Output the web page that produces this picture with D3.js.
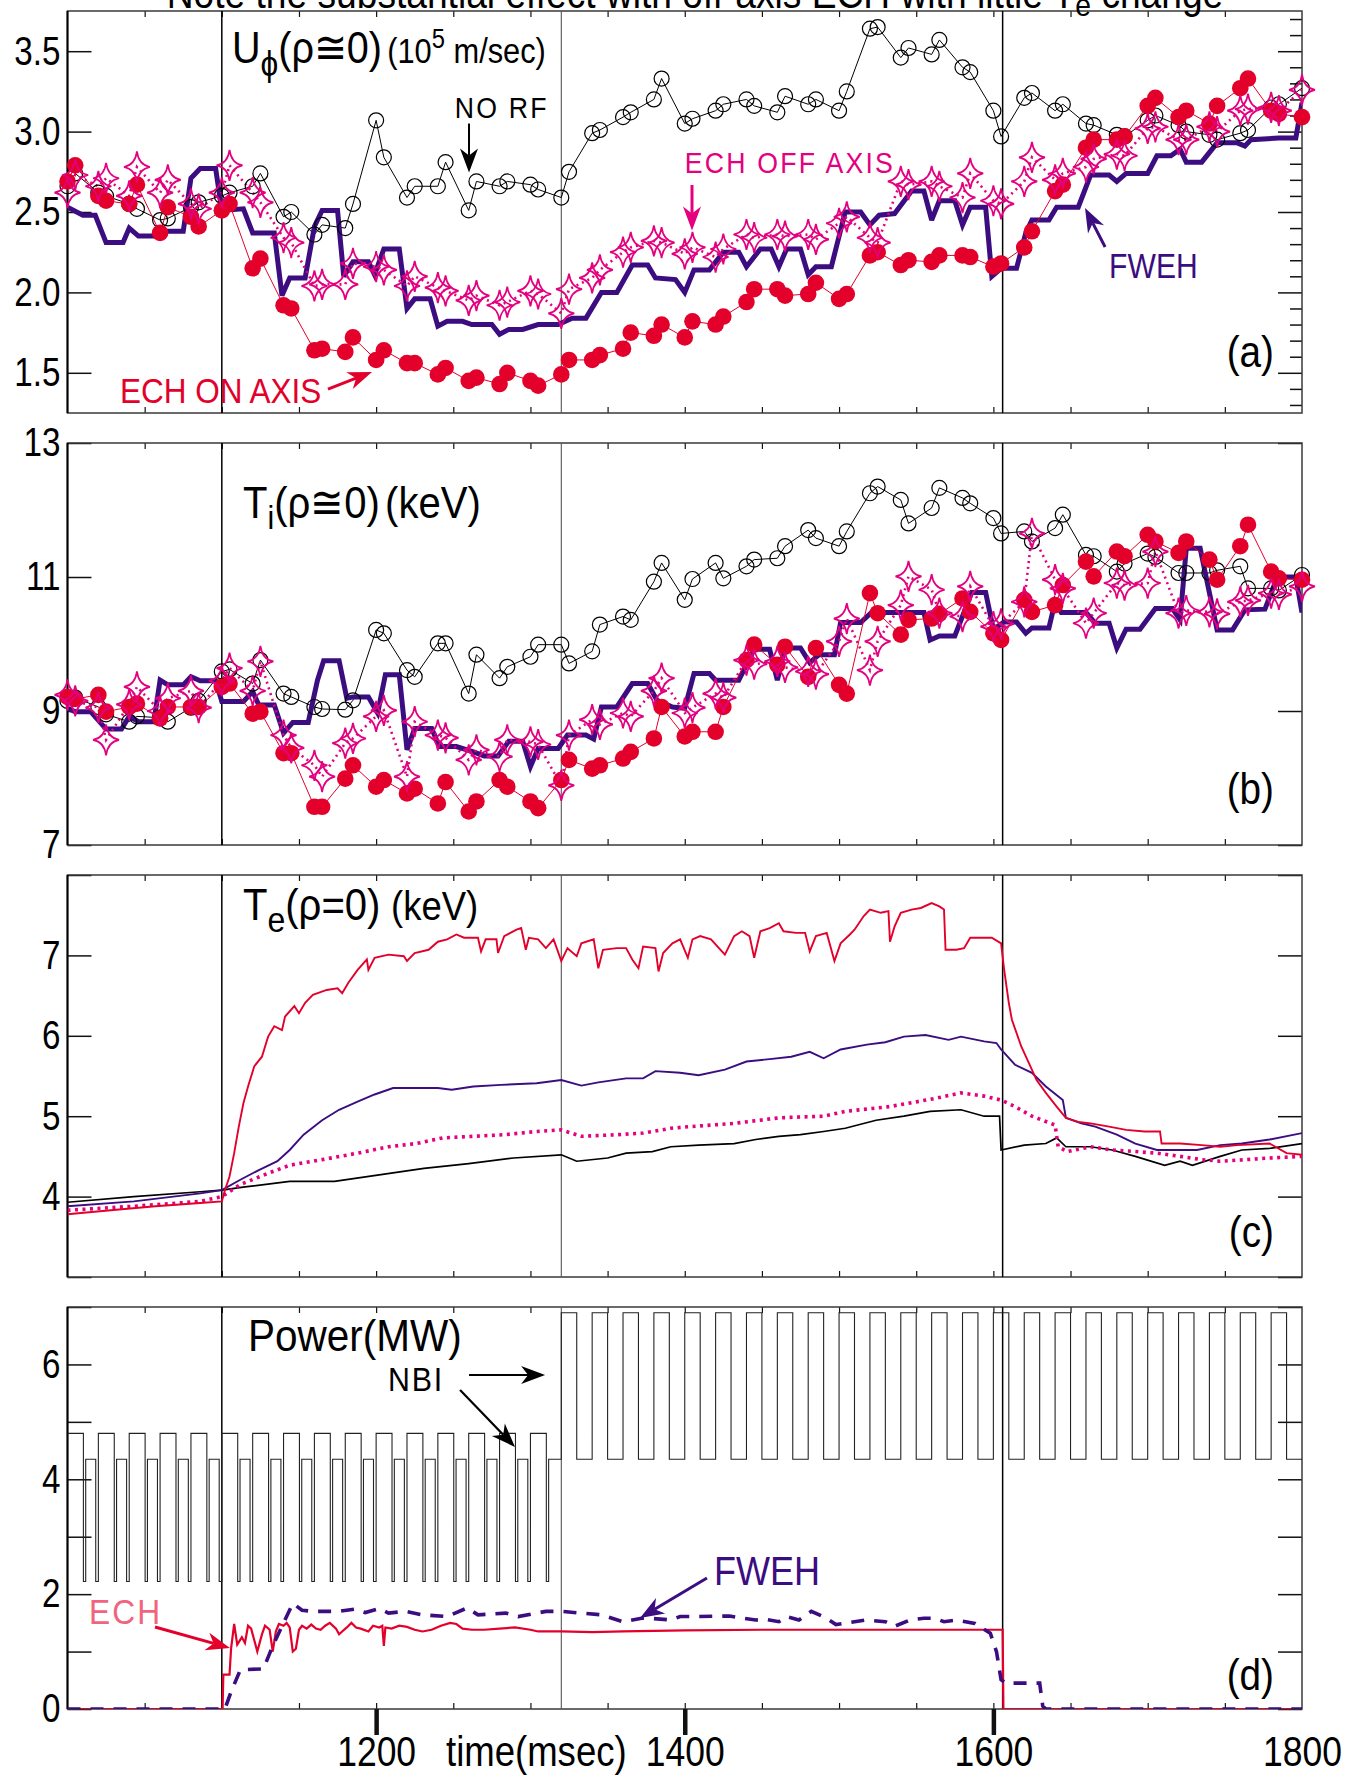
<!DOCTYPE html>
<html>
<head>
<meta charset="utf-8">
<script src="https://cdn.jsdelivr.net/npm/d3@7"></script>
<style>
  html, body { margin: 0; padding: 0; background: #fff; }
  svg { display: block; }
</style>
</head>
<body>
<div id="chart"></div>
<script>
// ---------------------------------------------------------------------------
// Data: central rotation, ion and electron temperature and heating power
// for four discharges (no RF, ECH on axis, ECH off axis, FWEH).
// ---------------------------------------------------------------------------

// CER sample times (ms), shared by the marker series of panels (a) and (b)
const cerTimes = [1000,1005,1020,1025,1040,1045,1060,1065,1080,1085,1100,1105,1120,1125,1140,1145,
  1160,1165,1180,1185,1200,1205,1220,1225,1240,1245,1260,1265,1280,1285,1300,1305,1320,1325,
  1340,1345,1360,1365,1380,1385,1400,1405,1420,1425,1440,1445,1460,1465,1480,1485,1500,1505,
  1520,1525,1540,1545,1560,1565,1580,1585,1600,1605,1620,1625,1640,1645,1660,1665,1680,1685,
  1700,1705,1720,1725,1740,1745,1760,1765,1780,1785,1800];

// (a) toroidal rotation U_phi (1e5 m/s)
const uNoRf = [2.66,2.74, 2.62,2.60, 2.55,2.52, 2.45,2.46, 2.53,2.56, 2.60,2.62, 2.66,2.74, 2.47,2.50,
  2.36,2.42, 2.40,2.55, 3.07,2.84, 2.59,2.66, 2.66,2.81, 2.51,2.69, 2.66,2.69, 2.67,2.64, 2.59,2.75,
  2.99,3.01, 3.09,3.12, 3.20,3.33, 3.05,3.08, 3.13,3.17, 3.20,3.16, 3.12,3.22, 3.17,3.20, 3.13,3.25,
  3.64,3.65, 3.46,3.52, 3.48,3.57, 3.40,3.37, 3.13,2.97, 3.21,3.24, 3.13,3.17, 3.05,3.04, 2.98,2.97,
  3.07,3.10, 3.04,3.00, 2.98,2.95, 2.99,3.01, 3.15,3.17, 3.27];
const uOnAxis = [2.69,2.79, 2.60,2.57, 2.55,2.67, 2.37,2.53, 2.47,2.41, 2.51,2.55, 2.15,2.21, 1.92,1.90,
  1.64,1.65, 1.63,1.72, 1.58,1.64, 1.56,1.56, 1.49,1.53, 1.45,1.47, 1.43,1.50, 1.45,1.42, 1.49,1.58,
  1.58,1.61, 1.65,1.75, 1.73,1.80, 1.72,1.82, 1.80,1.85, 1.94,2.02, 2.02,1.98, 1.99,2.06, 1.96,1.99,
  2.23,2.25, 2.17,2.20, 2.19,2.23, 2.23,2.22, 2.16,2.18, 2.28,2.38, 2.63,2.67, 2.90,2.95, 2.95,2.97,
  3.16,3.21, 3.09,3.13, 3.05,3.16, 3.27,3.33, 3.13,3.11, 3.09];
const uOffAxis = [2.62,2.73, 2.66,2.71, 2.60,2.78, 2.62,2.70, 2.55,2.52, 2.62,2.79, 2.62,2.56, 2.34,2.31,
  2.04,2.05, 2.05,2.18, 2.16,2.14, 2.04,2.10, 2.03,2.01, 1.95,1.98, 1.92,1.94, 2.01,1.99, 1.87,2.02,
  2.09,2.14, 2.25,2.28, 2.32,2.31, 2.24,2.28, 2.22,2.27, 2.36,2.34, 2.36,2.35, 2.36,2.33, 2.43,2.47,
  2.34,2.31, 2.69,2.67, 2.69,2.66, 2.59,2.74, 2.57,2.55, 2.69,2.84, 2.70,2.74, 2.78,2.83, 2.86,2.85,
  3.02,3.03, 2.95,2.95, 3.03,3.00, 3.13,3.14, 3.15,3.13, 3.26];
const uFweh = [[1000,2.53],[1010,2.48],[1018,2.48],[1025,2.31],[1036,2.31],[1040,2.40],[1046,2.35],
  [1057,2.35],[1063,2.38],[1075,2.38],[1080,2.71],[1086,2.77],[1096,2.77],[1100,2.51],[1114,2.52],
  [1120,2.37],[1134,2.37],[1139,1.98],[1144,2.09],[1154,2.09],[1160,2.41],[1165,2.51],[1175,2.51],
  [1179,2.10],[1185,2.19],[1195,2.19],[1199,2.11],[1205,2.27],[1215,2.27],[1220,1.90],[1225,1.96],
  [1235,1.96],[1240,1.79],[1246,1.82],[1256,1.82],[1262,1.80],[1275,1.80],[1280,1.74],[1286,1.77],
  [1295,1.77],[1305,1.80],[1318,1.80],[1327,1.84],[1336,1.84],[1346,2.00],[1356,2.00],[1366,2.17],
  [1376,2.17],[1381,2.09],[1394,2.08],[1400,2.00],[1406,2.14],[1416,2.14],[1425,2.25],[1435,2.25],
  [1440,2.16],[1449,2.27],[1456,2.27],[1461,2.16],[1466,2.27],[1475,2.27],[1480,2.11],[1485,2.16],
  [1495,2.16],[1504,2.50],[1514,2.50],[1520,2.42],[1526,2.48],[1536,2.49],[1547,2.63],[1555,2.63],
  [1560,2.45],[1565,2.57],[1575,2.57],[1580,2.42],[1585,2.53],[1595,2.53],[1599,2.10],[1605,2.15],
  [1615,2.15],[1621,2.37],[1625,2.45],[1636,2.45],[1641,2.53],[1655,2.53],[1663,2.73],[1675,2.73],
  [1680,2.69],[1686,2.74],[1700,2.74],[1706,2.85],[1715,2.85],[1721,2.89],[1725,2.81],[1735,2.81],
  [1745,2.93],[1758,2.93],[1763,2.91],[1767,2.95],[1785,2.96],[1796,2.96],[1800,3.18]];

// (b) ion temperature Ti (keV)
const tiNoRf = [9.15,9.20, 9.06,8.95, 8.84,8.92, 8.90,8.84, 9.05,9.15, 9.59,9.62, 9.41,9.76, 9.26,9.21,
  9.06,9.03, 9.02,9.16, 10.21,10.16, 9.61,9.51, 10.01,10.01, 9.26,9.84, 9.49,9.66, 9.81,9.99, 9.99,9.71,
  9.89,10.29, 10.41,10.36, 10.93,11.21, 10.66,10.97, 11.21,10.98, 11.16,11.26, 11.28,11.46, 11.70,11.58,
  11.46,11.68, 12.25,12.35, 12.15,11.80, 12.03,12.33, 12.18,12.10, 11.88,11.65, 11.68,11.53, 11.73,11.93,
  11.33,11.31, 11.08,11.20, 11.35,11.30, 11.06,11.06, 11.06,11.10, 11.16,10.83, 10.83,10.80, 11.03];
const tiOnAxis = [9.21,9.18, 9.24,8.99, 9.06,9.11, 8.89,9.06, 9.06,9.06, 9.36,9.41, 8.96,8.99, 8.37,8.37,
  7.57,7.57, 7.99,8.19, 7.87,7.97, 7.77,7.84, 7.62,7.94, 7.50,7.65, 7.97,7.87, 7.65,7.55, 7.97,8.27,
  8.14,8.19, 8.29,8.39, 8.59,9.06, 8.62,8.69, 8.69,9.06, 9.76,9.99, 9.69,9.96, 9.51,9.94, 9.39,9.26,
  10.76,10.46, 10.14,10.36, 10.38,10.45, 10.68,10.48, 10.16,10.06, 10.66,10.48, 10.58,10.88, 11.23,11.01,
  11.38,11.31, 11.63,11.53, 11.36,11.53, 11.26,10.96, 11.46,11.78, 11.08,10.98, 10.96];
const tiOffAxis = [9.24,9.15, 9.05,8.57, 9.10,9.36, 9.00,9.19, 9.30,9.05, 9.45,9.64, 9.30,9.74, 8.64,8.45,
  8.19,8.02, 8.52,8.59, 8.92,9.01, 8.02,8.84, 8.64,8.60, 8.27,8.42, 8.32,8.57, 8.54,8.50, 7.89,8.64,
  8.87,8.80, 8.97,8.92, 9.30,9.49, 8.97,9.05, 9.26,9.20, 9.76,9.70, 9.74,9.65, 9.59,9.55, 10.04,10.38,
  9.61,10.04, 10.58,11.01, 10.81,10.46, 10.41,10.86, 10.26,10.30, 10.63,11.65, 10.96,10.83, 10.31,10.46,
  10.91,10.88, 10.91,11.38, 10.46,10.50, 10.48,10.45, 10.63,10.65, 10.76,10.74, 10.86];
const tiFweh = [[1000,9.04],[1005,8.99],[1015,8.99],[1025,8.73],[1035,8.73],[1040,8.92],[1046,8.84],
  [1056,8.84],[1060,9.46],[1065,9.39],[1075,9.39],[1080,9.51],[1086,9.45],[1096,9.45],[1100,9.14],
  [1114,9.14],[1120,9.29],[1124,9.09],[1134,9.09],[1140,8.67],[1146,8.83],[1156,8.83],[1162,9.46],
  [1166,9.75],[1176,9.75],[1181,9.19],[1185,9.21],[1195,9.21],[1201,8.97],[1206,9.54],[1215,9.54],
  [1220,8.42],[1225,8.74],[1236,8.74],[1241,8.47],[1252,8.47],[1263,8.39],[1270,8.33],[1279,8.33],
  [1286,8.55],[1295,8.55],[1300,8.17],[1305,8.44],[1318,8.44],[1324,8.64],[1336,8.64],[1341,8.58],
  [1346,9.06],[1356,9.06],[1366,9.41],[1376,9.41],[1382,9.16],[1392,9.06],[1400,9.04],[1406,9.56],
  [1416,9.56],[1420,9.46],[1435,9.46],[1445,9.92],[1455,9.92],[1460,9.46],[1465,9.94],[1475,9.94],
  [1481,9.72],[1487,9.84],[1497,9.84],[1501,10.32],[1514,10.32],[1521,10.47],[1555,10.47],[1559,10.06],
  [1565,10.12],[1575,10.12],[1586,10.77],[1595,10.77],[1600,10.22],[1607,10.33],[1615,10.33],
  [1621,10.16],[1625,10.24],[1636,10.24],[1640,10.63],[1644,10.47],[1660,10.47],[1666,10.31],
  [1675,10.31],[1680,9.94],[1686,10.22],[1695,10.22],[1705,10.53],[1716,10.53],[1721,10.36],
  [1725,11.43],[1734,11.43],[1745,10.21],[1755,10.21],[1763,10.51],[1776,10.52],[1784,11.00],
  [1796,11.00],[1800,10.47]];

// (c) electron temperature Te (keV), ECE traces [time, value]
const teOnAxis = [[1000,3.78],[1028,3.83],[1057,3.88],[1086,3.92],[1100,3.94],[1102,4.08],[1105,4.25],
  [1108,4.54],[1111,4.87],[1114,5.16],[1117,5.37],[1121,5.62],[1126,5.74],[1130,5.99],[1134,6.12],
  [1139,6.07],[1141,6.24],[1147,6.37],[1150,6.28],[1154,6.41],[1159,6.51],[1168,6.57],[1175,6.59],
  [1178,6.53],[1182,6.66],[1188,6.82],[1194,6.95],[1195,6.82],[1199,6.97],[1208,7.01],[1218,6.99],
  [1220,6.93],[1225,7.03],[1234,7.07],[1240,7.17],[1246,7.20],[1252,7.26],[1257,7.22],[1266,7.22],
  [1268,7.05],[1271,7.20],[1278,7.20],[1279,7.03],[1283,7.24],[1291,7.32],[1294,7.34],[1297,7.07],
  [1299,7.22],[1305,7.20],[1310,7.09],[1315,7.20],[1320,6.93],[1324,7.09],[1330,6.99],[1333,7.15],
  [1341,7.20],[1344,6.84],[1347,7.07],[1356,7.09],[1362,7.09],[1366,6.95],[1370,6.84],[1373,7.11],
  [1381,7.09],[1383,6.80],[1386,7.03],[1392,7.15],[1397,7.20],[1402,6.97],[1405,7.20],[1410,7.24],
  [1417,7.20],[1426,7.01],[1432,7.24],[1437,7.30],[1442,7.24],[1445,6.97],[1449,7.30],[1455,7.34],
  [1461,7.40],[1464,7.30],[1472,7.28],[1478,7.28],[1481,7.05],[1485,7.24],[1492,7.28],[1497,6.93],
  [1501,7.15],[1507,7.26],[1510,7.32],[1516,7.49],[1520,7.57],[1527,7.53],[1532,7.55],[1533,7.17],
  [1536,7.36],[1540,7.53],[1547,7.57],[1553,7.59],[1560,7.65],[1565,7.61],[1568,7.57],[1569,7.07],
  [1576,7.07],[1581,7.09],[1585,7.22],[1594,7.22],[1599,7.22],[1605,7.15],[1607,6.82],[1610,6.41],
  [1612,6.20],[1618,5.87],[1624,5.62],[1628,5.45],[1634,5.29],[1641,5.12],[1647,4.98],[1655,4.93],
  [1663,4.91],[1675,4.87],[1686,4.83],[1698,4.81],[1708,4.81],[1709,4.66],[1721,4.66],[1735,4.64],
  [1747,4.62],[1758,4.64],[1779,4.66],[1790,4.54],[1800,4.52]];
const teFweh = [[1000,3.88],[1043,3.94],[1086,4.04],[1100,4.08],[1112,4.21],[1124,4.33],[1136,4.44],
  [1144,4.58],[1153,4.77],[1165,4.95],[1176,5.08],[1188,5.18],[1199,5.27],[1211,5.35],[1223,5.35],
  [1240,5.35],[1249,5.33],[1263,5.37],[1281,5.39],[1304,5.41],[1320,5.45],[1333,5.38],[1344,5.42],
  [1362,5.47],[1373,5.47],[1381,5.56],[1397,5.54],[1409,5.51],[1426,5.58],[1440,5.68],[1455,5.71],
  [1469,5.74],[1481,5.80],[1490,5.72],[1501,5.83],[1518,5.89],[1530,5.92],[1542,5.99],[1556,6.01],
  [1571,5.95],[1579,5.99],[1594,5.93],[1602,5.91],[1605,5.83],[1614,5.64],[1625,5.54],[1634,5.37],
  [1645,5.20],[1647,4.98],[1657,4.91],[1666,4.87],[1680,4.77],[1692,4.66],[1706,4.58],[1721,4.58],
  [1732,4.58],[1747,4.64],[1761,4.66],[1779,4.71],[1800,4.79]];
const teOffAxis = [[1000,3.83],[1043,3.88],[1086,3.94],[1100,4.00],[1112,4.15],[1130,4.29],[1144,4.39],
  [1165,4.46],[1188,4.54],[1208,4.62],[1226,4.66],[1243,4.73],[1263,4.75],[1283,4.77],[1304,4.81],
  [1320,4.83],[1333,4.75],[1356,4.77],[1373,4.79],[1391,4.85],[1403,4.87],[1432,4.91],[1461,4.98],
  [1490,5.00],[1504,5.06],[1533,5.12],[1562,5.22],[1579,5.29],[1594,5.25],[1605,5.20],[1614,5.12],
  [1625,5.00],[1640,4.89],[1642,4.62],[1648,4.56],[1663,4.62],[1677,4.58],[1692,4.56],[1706,4.54],
  [1721,4.50],[1735,4.46],[1747,4.44],[1764,4.46],[1779,4.48],[1800,4.50]];
const teNoRf = [[1000,3.93],[1043,4.00],[1086,4.06],[1100,4.08],[1115,4.12],[1144,4.19],[1173,4.19],
  [1202,4.27],[1231,4.35],[1260,4.41],[1289,4.48],[1320,4.52],[1330,4.44],[1350,4.48],[1362,4.54],
  [1379,4.56],[1391,4.62],[1409,4.64],[1432,4.66],[1446,4.71],[1461,4.75],[1475,4.77],[1490,4.81],
  [1504,4.85],[1524,4.95],[1542,5.00],[1559,5.06],[1579,5.08],[1594,5.00],[1604,5.00],[1605,4.58],
  [1620,4.64],[1634,4.66],[1641,4.73],[1647,4.62],[1663,4.62],[1677,4.58],[1692,4.50],[1711,4.39],
  [1721,4.44],[1729,4.39],[1747,4.50],[1761,4.58],[1779,4.60],[1800,4.66]];

// (d) heating power (MW)
const echPower = [[1000,0],[1100.5,0],[1101,0.6],[1105,0.6],[1106,1.05],[1108,1.48],[1110,1.12],
  [1113,1.25],[1115,1.15],[1117,1.45],[1119,1.40],[1121,1.20],[1123,1.00],[1126,1.30],[1128,1.45],
  [1131,1.38],[1133,1.00],[1135,1.35],[1137,1.48],[1140,1.45],[1142,1.50],[1144,1.42],[1146,1.00],
  [1148,1.05],[1150,1.38],[1152,1.45],[1155,1.40],[1158,1.47],[1161,1.40],[1164,1.38],[1167,1.45],
  [1170,1.50],[1174,1.40],[1176,1.30],[1178,1.35],[1181,1.42],[1184,1.50],[1187,1.42],[1190,1.40],
  [1195,1.35],[1198,1.45],[1202,1.42],[1204,1.45],[1205,1.10],[1206,1.42],[1210,1.40],[1215,1.45],
  [1220,1.43],[1225,1.38],[1230,1.35],[1236,1.38],[1242,1.45],[1248,1.50],[1252,1.48],[1256,1.40],
  [1262,1.38],[1270,1.38],[1280,1.40],[1290,1.42],[1300,1.38],[1305,1.35],[1320,1.35],[1340,1.34],
  [1360,1.35],[1400,1.37],[1450,1.38],[1500,1.38],[1550,1.38],[1600,1.38],[1606,1.38],[1606.5,0],
  [1800,0]];
const fwehPower = [[1000,0],[1102,0],[1106,0.30],[1112,0.68],[1127,0.70],[1133,1.10],[1140,1.50],
  [1146,1.84],[1152,1.72],[1159,1.70],[1176,1.70],[1186,1.74],[1193,1.68],[1202,1.75],[1208,1.67],
  [1219,1.70],[1230,1.64],[1246,1.61],[1259,1.76],[1266,1.64],[1284,1.67],[1292,1.61],[1310,1.70],
  [1320,1.70],[1346,1.64],[1360,1.52],[1372,1.58],[1377,1.58],[1391,1.55],[1397,1.61],[1409,1.61],
  [1429,1.62],[1438,1.58],[1446,1.55],[1453,1.56],[1461,1.52],[1466,1.61],[1474,1.55],[1482,1.70],
  [1492,1.58],[1498,1.47],[1510,1.52],[1517,1.55],[1530,1.52],[1536,1.44],[1546,1.55],[1555,1.58],
  [1562,1.58],[1568,1.52],[1576,1.55],[1588,1.49],[1598,1.32],[1602,1.00],[1605,0.51],[1608,0.45],
  [1630,0.45],[1632,0.05],[1634,0],[1800,0]];
// NBI power steps [start time, level]
const nbiSteps = [
  [1000,4.8],[1010.3,2.22],[1011.8,4.35],[1018.3,2.22],
  [1020,4.8],[1030.3,2.22],[1031.8,4.35],[1038.3,2.22],
  [1040,4.8],[1050.3,2.22],[1051.8,4.35],[1058.3,2.22],
  [1060,4.8],[1070.3,2.22],[1071.8,4.35],[1078.3,2.22],
  [1080,4.8],[1090.3,2.22],[1091.8,4.35],[1098.3,2.22],
  [1100,4.8],[1110.3,2.22],[1111.8,4.35],[1118.3,2.22],
  [1120,4.8],[1130.3,2.22],[1131.8,4.35],[1138.3,2.22],
  [1140,4.8],[1150.3,2.22],[1151.8,4.35],[1158.3,2.22],
  [1160,4.8],[1170.3,2.22],[1171.8,4.35],[1178.3,2.22],
  [1180,4.8],[1190.3,2.22],[1191.8,4.35],[1198.3,2.22],
  [1200,4.8],[1210.3,2.22],[1211.8,4.35],[1218.3,2.22],
  [1220,4.8],[1230.3,2.22],[1231.8,4.35],[1238.3,2.22],
  [1240,4.8],[1250.3,2.22],[1251.8,4.35],[1258.3,2.22],
  [1260,4.8],[1270.3,2.22],[1271.8,4.35],[1278.3,2.22],
  [1280,4.8],[1290.3,2.22],[1291.8,4.35],[1298.3,2.22],
  [1300,4.8],[1310.3,2.22],[1311.8,4.35],
  [1320,6.9],[1330,4.35],[1340,6.9],[1350,4.35],[1360,6.9],[1370,4.35],[1380,6.9],[1390,4.35],
  [1400,6.9],[1410,4.35],[1420,6.9],[1430,4.35],[1440,6.9],[1450,4.35],[1460,6.9],[1470,4.35],
  [1480,6.9],[1490,4.35],[1500,6.9],[1510,4.35],[1520,6.9],[1530,4.35],[1540,6.9],[1550,4.35],
  [1560,6.9],[1570,4.35],[1580,6.9],[1590,4.35],[1600,6.9],[1610,4.35],[1620,6.9],[1630,4.35],
  [1640,6.9],[1650,4.35],[1660,6.9],[1670,4.35],[1680,6.9],[1690,4.35],[1700,6.9],[1710,4.35],
  [1720,6.9],[1730,4.35],[1740,6.9],[1750,4.35],[1760,6.9],[1770,4.35],[1780,6.9],[1790,4.35],
  [1800,4.35]];

// RF on / NBI step / RF off times (ms)
const eventTimes = [1100, 1320, 1606];

// tick labels
const timeLabels = [1200, 1400, 1600, 1800];
const uTicks = [1.5, 2.0, 2.5, 3.0, 3.5];
const tiTicks = [7, 9, 11, 13];
const teTicks = [3, 4, 5, 6, 7, 8];
const teLabels = [4, 5, 6, 7];
const powTicks = [0, 1, 2, 3, 4, 5, 6, 7];
const powLabels = [0, 2, 4, 6];

// ---------------------------------------------------------------------------
const FONT = '"Liberation Sans", Arial, Helvetica, sans-serif';
const RED = "#e3002b", PINK = "#e4007f", PURPLE = "#3b0d80", BLACK = "#000";
const W = 1345, H = 1776;
const X0 = 67.5, X1 = 1302;

const svg = d3.select("#chart").append("svg")
  .attr("width", W).attr("height", H)
  .attr("font-family", FONT);
svg.append("rect").attr("width", W).attr("height", H).attr("fill", "#fff");

const x = d3.scaleLinear().domain([1000, 1800]).range([X0, X1]);

const panels = {
  a: { top: 11,   bottom: 413,  domain: [1.25, 3.75] },
  b: { top: 443,  bottom: 845,  domain: [7, 13] },
  c: { top: 875,  bottom: 1277, domain: [3, 8] },
  d: { top: 1307, bottom: 1709, domain: [0, 7] }
};
Object.entries(panels).forEach(([k, p]) => {
  p.key = k;
  p.y = d3.scaleLinear().domain(p.domain).range([p.bottom, p.top]);
  svg.append("clipPath").attr("id", "clip-" + k)
    .append("rect").attr("x", X0).attr("y", p.top)
    .attr("width", X1 - X0).attr("height", p.bottom - p.top);
});

// narrow lettering: squeeze text horizontally about its anchor point
function narrow(sel, s) {
  sel.each(function () {
    const t = d3.select(this);
    const tx = +t.attr("x") || 0, ty = +t.attr("y") || 0;
    t.attr("x", 0).attr("y", 0).attr("transform", `translate(${tx},${ty}) scale(${s},1)`);
  });
}

const minorTimes = d3.range(1050, 1800, 50);

function styleAxis(g, width) {
  g.select(".domain").remove();
  g.attr("font-family", FONT).attr("font-size", 40);
  g.selectAll("line").attr("stroke", "#111").attr("stroke-width", width || 1.5);
  g.selectAll("text").attr("fill", "#000");
}

function drawFrame(p, cfg) {
  const g = svg.append("g");
  // left axis: inward major ticks and value labels
  g.append("g").attr("transform", `translate(${X0},0)`)
    .call(d3.axisLeft(p.y).tickValues(cfg.left).tickSize(-24).tickPadding(7)
      .tickFormat(v => cfg.labels.includes(v) ? cfg.fmt(v) : ""))
    .call(s => { styleAxis(s); narrow(s.selectAll("text"), 0.83); });
  // right axis: inward ticks
  g.append("g").attr("transform", `translate(${X1},0)`)
    .call(d3.axisRight(p.y).tickValues(cfg.right).tickSize(-24).tickFormat(""))
    .call(s => styleAxis(s));
  if (cfg.rightMinor) {
    g.append("g").attr("transform", `translate(${X1},0)`)
      .call(d3.axisRight(p.y).tickValues(cfg.rightMinor).tickSize(-12).tickFormat(""))
      .call(s => styleAxis(s));
  }
  // time ticks on top and bottom edges
  g.append("g").attr("transform", `translate(0,${p.top})`)
    .call(d3.axisTop(x).tickValues(minorTimes).tickSize(-6).tickFormat(""))
    .call(s => styleAxis(s, 1.2));
  g.append("g").attr("transform", `translate(0,${p.bottom})`)
    .call(d3.axisBottom(x).tickValues(minorTimes).tickSize(-6).tickFormat(""))
    .call(s => styleAxis(s, 1.2));
  // box
  g.append("rect").attr("x", X0).attr("y", p.top)
    .attr("width", X1 - X0).attr("height", p.bottom - p.top)
    .attr("fill", "none").attr("stroke", "#3a3a3a").attr("stroke-width", 1.5);
  g.append("line").attr("x1", X0).attr("x2", X0).attr("y1", p.top).attr("y2", p.bottom)
    .attr("stroke", "#000").attr("stroke-width", 2);
  // event markers
  g.selectAll("line.event").data(eventTimes).join("line").attr("class", "event")
    .attr("x1", d => x(d)).attr("x2", d => x(d))
    .attr("y1", p.top).attr("y2", p.bottom)
    .attr("stroke", (d, i) => i === 1 ? "#555" : "#000")
    .attr("stroke-width", (d, i) => i === 1 ? 1.1 : 1.5);
}

const fmt1 = d3.format(".1f"), fmt0 = d3.format("d");
const rightMinorU = d3.range(1.3, 3.75, 0.1).map(v => +v.toFixed(1)).filter(v => Math.abs(v * 2 - Math.round(v * 2)) > 1e-6);
drawFrame(panels.a, { left: uTicks, labels: uTicks, fmt: fmt1, right: uTicks, rightMinor: rightMinorU });
drawFrame(panels.b, { left: tiTicks, labels: tiTicks, fmt: fmt0, right: [7, 9, 13] });
drawFrame(panels.c, { left: teTicks, labels: teLabels, fmt: fmt0, right: teTicks });
drawFrame(panels.d, { left: powTicks, labels: powLabels, fmt: fmt0, right: powTicks });

// bottom time axis: heavy outward ticks and labels
const pd = panels.d;
svg.append("g").attr("transform", `translate(0,${pd.bottom})`)
  .call(d3.axisBottom(x).tickValues([1200, 1400, 1600]).tickSize(26).tickFormat(""))
  .call(s => styleAxis(s, 4.5));
svg.append("g").attr("transform", `translate(0,${pd.bottom})`)
  .call(d3.axisBottom(x).tickValues(timeLabels).tickSize(0).tickPadding(27).tickFormat(fmt0))
  .call(s => { styleAxis(s); s.attr("font-size", 42); narrow(s.selectAll("text"), 0.845); });
narrow(svg.append("text").attr("x", 446).attr("y", 1766).attr("font-size", 42).text("time(msec)"), 0.87);

// ---------------------------------------------------------------------------
// helpers for series
const starPath = (rx, ry) => {
  const a = rx * 0.13, b = ry * 0.13;
  return `M0,${-ry}Q${a},${-b} ${rx},0Q${a},${b} 0,${ry}Q${-a},${b} ${-rx},0Q${-a},${-b} 0,${-ry}Z`;
};

function cerSeries(values) {
  return cerTimes.map((t, i) => [t, values[i]]).filter(d => d[1] != null);
}

function lineGen(p) {
  return d3.line().x(d => x(d[0])).y(d => p.y(d[1]));
}

function drawMarkerPanel(p, noRf, onAxis, offAxis, fweh) {
  const g = svg.append("g");
  const gc = g.append("g").attr("clip-path", `url(#clip-${p.key})`);
  const line = lineGen(p);
  const dNo = cerSeries(noRf), dOn = cerSeries(onAxis), dOff = cerSeries(offAxis);

  // no RF: open circles on a thin line
  gc.append("path").attr("d", line(dNo)).attr("fill", "none").attr("stroke", BLACK).attr("stroke-width", 1);
  g.append("g").selectAll("circle").data(dNo).join("circle")
    .attr("cx", d => x(d[0])).attr("cy", d => p.y(d[1])).attr("r", 7.5)
    .attr("fill", "none").attr("stroke", BLACK).attr("stroke-width", 1.2);

  // FWEH: heavy line
  gc.append("path").attr("d", line(fweh)).attr("fill", "none").attr("stroke", PURPLE)
    .attr("stroke-width", 5).attr("stroke-linejoin", "miter").attr("stroke-miterlimit", 3);

  // ECH on axis: filled dots on a thin line
  gc.append("path").attr("d", line(dOn)).attr("fill", "none").attr("stroke", RED).attr("stroke-width", 1);
  g.append("g").selectAll("circle").data(dOn).join("circle")
    .attr("cx", d => x(d[0])).attr("cy", d => p.y(d[1])).attr("r", 8.3)
    .attr("fill", RED);

  // ECH off axis: four-point stars on a dotted line
  gc.append("path").attr("d", line(dOff)).attr("fill", "none").attr("stroke", PINK)
    .attr("stroke-width", 2.6).attr("stroke-dasharray", "2,4");
  g.append("g").selectAll("path").data(dOff).join("path")
    .attr("transform", d => `translate(${x(d[0])},${p.y(d[1])})`)
    .attr("d", starPath(13, 15.5))
    .attr("fill", "none").attr("stroke", PINK).attr("stroke-width", 1.7);
}

drawMarkerPanel(panels.a, uNoRf, uOnAxis, uOffAxis, uFweh);
drawMarkerPanel(panels.b, tiNoRf, tiOnAxis, tiOffAxis, tiFweh);

// (c) electron temperature traces
(function () {
  const p = panels.c, line = lineGen(p);
  const gc = svg.append("g").attr("clip-path", "url(#clip-c)");
  gc.append("path").attr("d", line(teNoRf)).attr("fill", "none").attr("stroke", BLACK).attr("stroke-width", 1.7);
  gc.append("path").attr("d", line(teOffAxis)).attr("fill", "none").attr("stroke", PINK)
    .attr("stroke-width", 3.6).attr("stroke-dasharray", "3,4.5");
  gc.append("path").attr("d", line(teFweh)).attr("fill", "none").attr("stroke", PURPLE).attr("stroke-width", 1.9);
  gc.append("path").attr("d", line(teOnAxis)).attr("fill", "none").attr("stroke", RED).attr("stroke-width", 1.9);
})();

// (d) heating power
(function () {
  const p = panels.d, line = lineGen(p);
  const gc = svg.append("g").attr("clip-path", "url(#clip-d)");
  const step = d3.line().x(d => x(d[0])).y(d => p.y(d[1])).curve(d3.curveStepAfter);
  gc.append("path").attr("d", step(nbiSteps)).attr("fill", "none").attr("stroke", "#222").attr("stroke-width", 1.1);
  gc.append("path").attr("d", line(echPower)).attr("fill", "none").attr("stroke", RED).attr("stroke-width", 2.2);
  gc.append("path").attr("d", line(fwehPower)).attr("fill", "none").attr("stroke", PURPLE)
    .attr("stroke-width", 3.6).attr("stroke-dasharray", "13,10");
})();

// ---------------------------------------------------------------------------
// text
function richText(xp, yp, parts, opts = {}) {
  const t = svg.append("text").attr("x", xp).attr("y", yp)
    .attr("fill", opts.fill || "#000")
    .attr("text-anchor", opts.anchor || "start");
  if (opts.spacing) t.attr("letter-spacing", opts.spacing);
  parts.forEach(q => {
    const s = t.append("tspan").text(q.text).attr("font-size", q.size);
    if (q.dy) s.attr("dy", q.dy);
    if (q.dx) s.attr("dx", q.dx);
  });
  if (opts.squeeze) narrow(t, opts.squeeze);
  return t;
}

// headline (runs off the top edge)
richText(695, 8, [
  { text: "Note the substantial effect with off-axis ECH with little T", size: 42 },
  { text: "e", size: 32, dy: 8 },
  { text: " change", size: 42, dy: -8 }
], { anchor: "middle", squeeze: 0.885 });

// panel titles
richText(232, panels.a.top + 52, [
  { text: "U", size: 45 }, { text: "ϕ", size: 36, dy: 13 }, { text: "(ρ≅0)", size: 45, dy: -13 },
  { text: "(10", size: 35, dx: 6 }, { text: "5", size: 27, dy: -15 }, { text: " m/sec)", size: 35, dy: 15 }
], { squeeze: 0.88 });
richText(243, panels.b.top + 75, [
  { text: "T", size: 45 }, { text: "i", size: 34, dy: 11 }, { text: "(ρ≅0)", size: 45, dy: -11 },
  { text: "(keV)", size: 45, dx: 6 }
], { squeeze: 0.89 });
richText(243, panels.c.top + 45, [
  { text: "T", size: 45 }, { text: "e", size: 36, dy: 12 }, { text: "(ρ=0)", size: 45, dy: -12 },
  { text: "(keV)", size: 41, dx: 12 }
], { squeeze: 0.89 });
richText(248, panels.d.top + 44, [{ text: "Power(MW)", size: 45 }], { squeeze: 0.9 });

// panel letters
[["a", 367], ["b", 804], ["c", 1247], ["d", 1690]].forEach(([k, yb]) =>
  richText(1274, yb, [{ text: `(${k})`, size: 44 }], { anchor: "end", squeeze: 0.88 }));

// annotation arrows, positioned in data coordinates of each panel
function arrow(p, t1, v1, t2, v2, color, w) {
  const xa = x(t1), ya = p.y(v1), xb = x(t2), yb = p.y(v2);
  const ang = Math.atan2(yb - ya, xb - xa);
  const L = 24, Wd = 9, N = 17;
  const ux = Math.cos(ang), uy = Math.sin(ang), nx = -uy, ny = ux;
  const bx = xb - ux * L, by = yb - uy * L;
  svg.append("line").attr("x1", xa).attr("y1", ya)
    .attr("x2", xb - ux * N).attr("y2", yb - uy * N)
    .attr("stroke", color).attr("stroke-width", w);
  svg.append("path")
    .attr("d", `M${xb},${yb}L${bx + nx * Wd},${by + ny * Wd}L${xb - ux * N},${yb - uy * N}L${bx - nx * Wd},${by - ny * Wd}Z`)
    .attr("fill", color);
}

const pa = panels.a;
richText(x(1251), pa.y(3.085), [{ text: "NO RF", size: 29 }], { spacing: 2.4, squeeze: 0.92 });
arrow(pa, 1260.2, 3.05, 1260.2, 2.745, BLACK, 2);
richText(x(1400), pa.y(2.743), [{ text: "ECH OFF AXIS", size: 29 }], { fill: PINK, spacing: 2.4, squeeze: 0.92 });
arrow(pa, 1404.7, 2.668, 1404.7, 2.385, PINK, 3);
richText(x(1675), pa.y(2.09), [{ text: "FWEH", size: 35 }], { fill: PURPLE, squeeze: 0.86 });
arrow(pa, 1672.4, 2.282, 1659.4, 2.525, PURPLE, 3);
richText(x(1034), pa.y(1.312), [{ text: "ECH ON AXIS", size: 35 }], { fill: RED, squeeze: 0.9 });
arrow(pa, 1168.8, 1.399, 1197.3, 1.505, RED, 3);

richText(x(1207.7), pd.y(5.53), [{ text: "NBI", size: 33 }], { spacing: 2, squeeze: 0.92 });
arrow(pd, 1260.2, 5.816, 1309.5, 5.816, BLACK, 2.2);
arrow(pd, 1254.4, 5.555, 1290, 4.562, BLACK, 2.2);
richText(x(1013.9), pd.y(1.48), [{ text: "ECH", size: 36 }], { fill: "#f0657d", spacing: 2.5, squeeze: 0.88 });
arrow(pd, 1056.7, 1.428, 1105.3, 1.062, RED, 3);
richText(x(1419), pd.y(2.16), [{ text: "FWEH", size: 40 }], { fill: PURPLE, squeeze: 0.9 });
arrow(pd, 1414.4, 2.28, 1371, 1.585, PURPLE, 3);
</script>
</body>
</html>
